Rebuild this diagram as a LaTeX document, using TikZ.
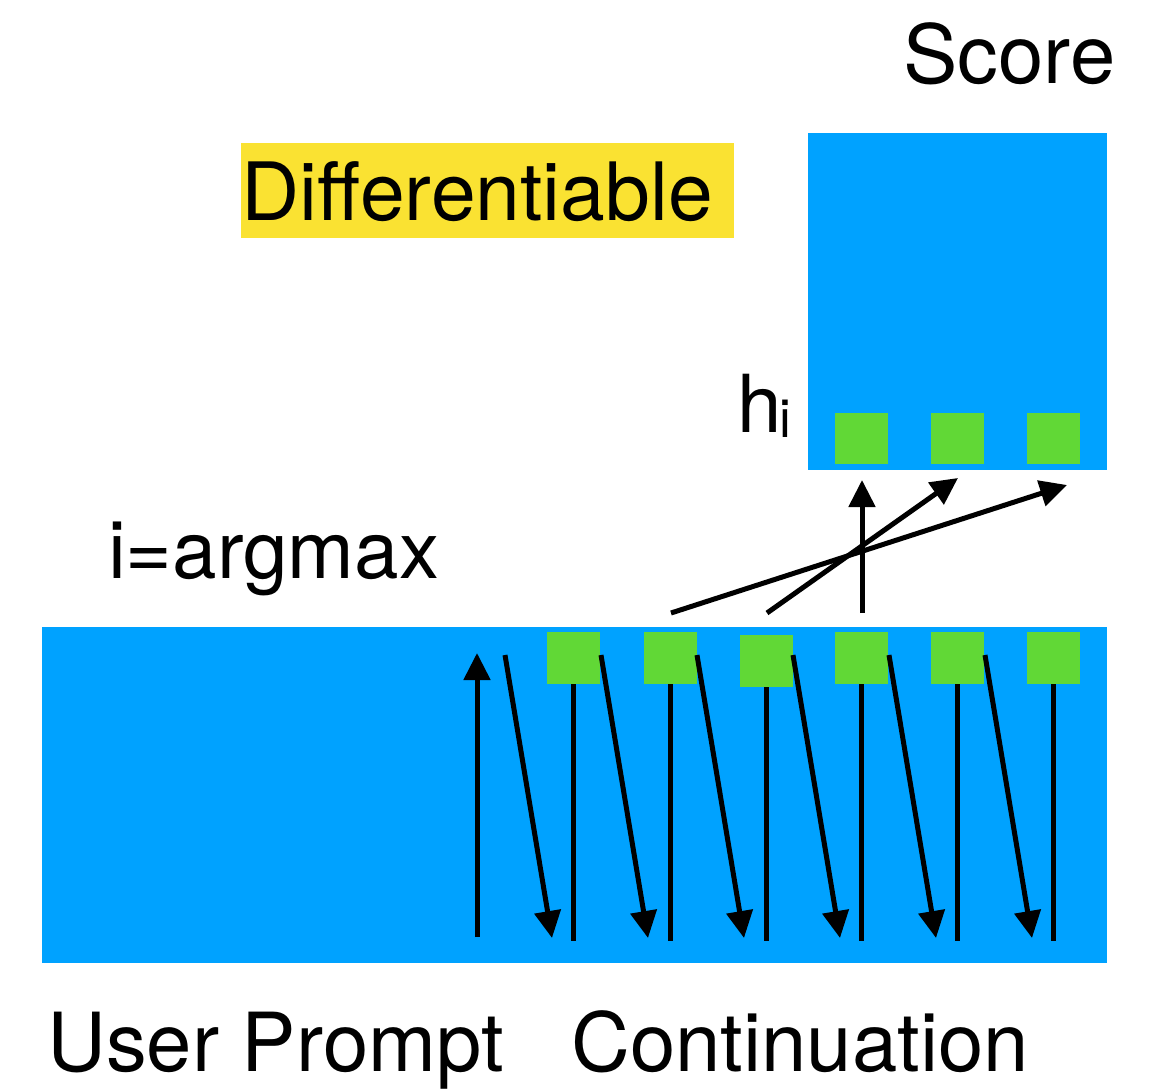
\documentclass[tikz,border=0pt]{standalone}
\usepackage{fontspec}
\setmainfont{TeX Gyre Heros}
\usetikzlibrary{arrows.meta}
\definecolor{panel}{RGB}{0,162,255}
\definecolor{token}{RGB}{97,216,54}
\definecolor{marker}{RGB}{250,226,50}
\begin{document}
\begin{tikzpicture}[x=1pt,y=-1pt,
  panelbox/.style={fill=panel, inner sep=0pt, anchor=north west},
  tok/.style={fill=token, minimum width=53pt, minimum height=52pt, inner sep=0pt},
  link/.style={line width=5pt},
  flow/.style={link, -{Triangle[length=27pt,width=26pt]}},
  caption/.style={inner sep=0pt, anchor=base west, font=\fontsize{80}{96}\selectfont},
  widecap/.style={caption, font=\fontsize{81.5}{96}\selectfont}]
\useasboundingbox (0,0) rectangle (1152,1090);

% model blocks
\node[panelbox, minimum width=1065pt, minimum height=336pt] (model) at (42,627) {};
\node[panelbox, minimum width=299pt, minimum height=337pt] (scorer) at (808,133) {};

% continuation tokens
\node[tok] (b1) at (573.5,658) {};
\node[tok] (b2) at (670.5,658) {};
\node[tok] (b3) at (766.5,661) {};
\node[tok] (b4) at (861.5,658) {};
\node[tok] (b5) at (957.5,658) {};
\node[tok] (b6) at (1053.5,658) {};

% hidden states fed to the scorer
\node[tok, minimum height=51pt] (h1) at (861.5,438.5) {};
\node[tok, minimum height=51pt] (h2) at (957.5,438.5) {};
\node[tok, minimum height=51pt] (h3) at (1053.5,438.5) {};

% per-token columns through the model
\coordinate (floor) at (0,941);
\foreach \n in {b1,b2,b3,b4,b5,b6}
  \draw[link] (\n.south) -- (\n.south |- floor);

% feedback from each position to the next one
\foreach \k in {0,...,5} {
  \coordinate (s\k) at ({505+96*\k},655);
  \coordinate (e\k) at ({552+96*\k},938);
  \draw[flow] (s\k) -- (e\k);
}

% prompt read-out
\coordinate (up0) at (477,937);
\coordinate (up1) at (477,653);
\draw[flow] (up0) -- (up1);

% selected state routed to the scorer
\coordinate (r0) at (862,613);
\coordinate (r1) at (862,480);
\coordinate (q0) at (767,613);
\coordinate (q1) at (958,478);
\coordinate (p0) at (671,613);
\coordinate (p1) at (1067,485);
\draw[flow] (r0) -- (r1);
\draw[flow] (q0) -- (q1);
\draw[flow] (p0) -- (p1);

% labels
\node[fill=marker, inner sep=0pt, minimum width=493pt, minimum height=95pt, anchor=north west] (hl) at (241,143) {};
\node[caption, font=\fontsize{80.5}{96}\selectfont] (diff) at (241,220) {Differentiable};
\node[widecap] (score) at (903,83) {Score};
\node[caption] (argmax) at (108,578) {i=argmax};
\node[caption] (hi) at (737,432) {h\kern-2pt\raisebox{-5pt}{\fontsize{53}{60}\selectfont i}};
\node[widecap] (user) at (47,1071) {User Prompt};
\node[widecap] (cont) at (571,1071) {Continuation};
\end{tikzpicture}
\end{document}
